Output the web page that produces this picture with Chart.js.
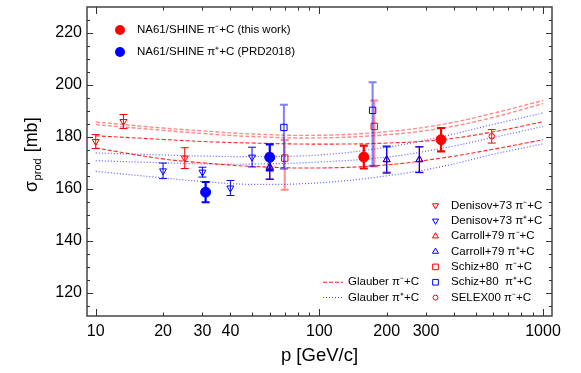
<!DOCTYPE html>
<html><head><meta charset="utf-8">
<script src="https://cdn.jsdelivr.net/npm/chart.js@4"></script>
<style>html,body{margin:0;padding:0;background:#fff;}</style>
</head><body>
<canvas id="c" width="581" height="373"></canvas>
<script>
// ---------------- data ----------------
const xLabelled = [10, 20, 30, 40, 100, 200, 300, 1000];
const xTickVals = [10,20,30,40,50,60,70,80,90,100,200,300,400,500,600,700,800,900,1000];
const yLabelled = [120, 140, 160, 180, 200, 220];

// NA61/SHINE pi- + C (this work)
const na61mP = [158, 350];
const na61mS = [172.2, 178.9];
const na61mE = [4.4, 4.5];
// NA61/SHINE pi+ + C (PRD2018)
const na61pP = [31, 60];
const na61pS = [158.7, 172.1];
const na61pE = [3.9, 5.0];
// Denisov+73 pi- + C
const denMP = [10, 13.3, 25];
const denMS = [178.2, 185.9, 171.8];
const denME = [2.7, 2.7, 4.0];
// Denisov+73 pi+ + C
const denPP = [20, 30, 40, 50];
const denPS = [166.9, 166.4, 160.3, 172.2];
const denPE = [3.0, 1.9, 2.9, 3.8];
// Carroll+79 pi- + C
const carMP = [60, 200, 280];
const carMS = [168.6, 171.2, 171.2];
const carME = [5.0, 4.8, 5.0];
// Carroll+79 pi+ + C
const carPP = [60, 200, 280];
const carPS = [168.2, 171.2, 171.2];
const carPE = [4.5, 5.2, 4.9];
// Schiz+80 pi- + C (asymmetric)
const schMP = [70, 176];
const schMS = [171.8, 184.0];
const schMLo = [159.6, 168.6];
const schMHi = [178.8, 194.0];
// Schiz+80 pi+ + C (asymmetric)
const schPP = [69.4, 173];
const schPS = [183.6, 190.2];
const schPLo = [167.7, 168.9];
const schPHi = [192.4, 201.0];
// SELEX00 pi- + C
const selP = [590];
const selS = [180.2];
const selE = [2.6];

// Glauber curves
const glP = [10, 20, 30, 50, 100, 200, 350, 580, 1000];
const glM1 = [185.7, 183.4, 182.3, 181.1, 180.6, 182.0, 184.7, 188.8, 194.0];
const glM2 = [184.7, 182.5, 181.3, 180.1, 179.6, 180.8, 183.3, 187.2, 192.8];
const glM3 = [180.4, 179.0, 178.2, 177.6, 177.2, 177.6, 178.9, 181.7, 185.8];
const glM4 = [175.7, 171.5, 170.0, 168.6, 168.0, 169.2, 171.8, 175.0, 178.9];
const glP1 = [173.8, 173.0, 172.6, 172.4, 173.0, 176.0, 180.0, 184.5, 189.2];
const glP2 = [170.8, 170.0, 169.6, 169.5, 170.3, 172.2, 175.5, 179.5, 184.0];
const glP3 = [166.7, 164.2, 162.8, 161.7, 162.3, 165.0, 168.5, 173.0, 177.3];

// ---------------- helpers ----------------
const RED = '#ff0000', BLUE = '#0000ff';
const FONT = "'Liberation Sans', Arial, Helvetica, sans-serif";
function pts(xs, ys) { return xs.map((x, i) => ({x: x, y: ys[i]})); }
function sym(ys, es, sign) { return ys.map((y, i) => y + sign * es[i]); }

function pointSet(label, xs, ys, lo, hi, o) {
  return Object.assign({
    label: label, data: pts(xs, ys), errLo: lo, errHi: hi,
    showLine: false, borderWidth: 1, backgroundColor: 'rgba(0,0,0,0)'
  }, o);
}
function curve(xs, ys, color, dash, width) {
  return { label: '', data: pts(xs, ys), showLine: true, pointRadius: 0, borderColor: color,
    borderWidth: width, borderDash: dash, tension: 0.4, fill: false, isCurve: true };
}

const datasets = [
  pointSet('na61m', na61mP, na61mS, sym(na61mS, na61mE, -1), sym(na61mS, na61mE, 1),
    {pointStyle: 'circle', pointRadius: 5, backgroundColor: RED, borderColor: RED, errColor: RED, errWidth: 2.2, cap: 4}),
  pointSet('na61p', na61pP, na61pS, sym(na61pS, na61pE, -1), sym(na61pS, na61pE, 1),
    {pointStyle: 'circle', pointRadius: 5, backgroundColor: BLUE, borderColor: BLUE, errColor: BLUE, errWidth: 2.2, cap: 4}),
  pointSet('selex', selP, selS, sym(selS, selE, -1), sym(selS, selE, 1),
    {pointStyle: 'circle', pointRadius: 2.8, borderColor: RED, errColor: RED, errWidth: 1, cap: 4}),
  pointSet('denM', denMP, denMS, sym(denMS, denME, -1), sym(denMS, denME, 1),
    {pointStyle: 'triangle', rotation: 180, pointRadius: 4, borderColor: RED, errColor: RED, errWidth: 1, cap: 4}),
  pointSet('denP', denPP, denPS, sym(denPS, denPE, -1), sym(denPS, denPE, 1),
    {pointStyle: 'triangle', rotation: 180, pointRadius: 4, borderColor: BLUE, errColor: BLUE, errWidth: 1, cap: 4}),
  pointSet('carP', carPP, carPS, sym(carPS, carPE, -1), sym(carPS, carPE, 1),
    {pointStyle: 'triangle', rotation: 0, pointRadius: 4, borderColor: BLUE, errColor: BLUE, errWidth: 1.2, cap: 4}),
  pointSet('carM', carMP, carMS, sym(carMS, carME, -1), sym(carMS, carME, 1),
    {pointStyle: 'triangle', rotation: 0, pointRadius: 4, borderColor: RED, errColor: 'rgba(255,0,0,0.8)', errWidth: 1.2, cap: 4}),
  pointSet('schP', schPP, schPS, schPLo, schPHi,
    {pointStyle: 'rect', pointRadius: 4.5, borderColor: BLUE, errColor: 'rgba(0,0,255,0.5)', errWidth: 2, cap: 4}),
  pointSet('schM', schMP, schMS, schMLo, schMHi,
    {pointStyle: 'rect', pointRadius: 4.5, borderColor: RED, errColor: 'rgba(255,0,0,0.45)', errWidth: 2, cap: 4}),
  curve(glP, glM1, 'rgba(255,0,0,0.45)', [4, 2], 1.4),
  curve(glP, glM2, 'rgba(255,0,0,0.45)', [4, 2], 1.4),
  curve(glP, glM3, 'rgba(255,0,0,0.85)', [4, 2], 1.1),
  curve(glP, glM4, 'rgba(255,0,0,0.85)', [4, 2], 1.1),
  curve(glP, glP1, 'rgba(40,40,255,0.75)', [1, 2], 1.2),
  curve(glP, glP2, 'rgba(40,40,255,0.75)', [1, 2], 1.2),
  curve(glP, glP3, 'rgba(40,40,255,0.75)', [1, 2], 1.2)
];

// ---------------- plugin ----------------
function marker(ctx, style, x, y, r, color, filled, rot) {
  ctx.save();
  ctx.strokeStyle = color; ctx.fillStyle = color; ctx.lineWidth = 1;
  ctx.beginPath();
  if (style === 'circle') { ctx.arc(x, y, r, 0, Math.PI * 2); }
  else if (style === 'rect') { const s = r * Math.SQRT1_2; ctx.rect(x - s, y - s, 2 * s, 2 * s); }
  else if (style === 'triangle') {
    let a = rot * Math.PI / 180;
    for (let k = 0; k < 3; k++) {
      const px = x + Math.sin(a) * r, py = y - Math.cos(a) * r;
      if (k === 0) ctx.moveTo(px, py); else ctx.lineTo(px, py);
      a += 2 * Math.PI / 3;
    }
    ctx.closePath();
  }
  if (filled) ctx.fill(); else ctx.stroke();
  ctx.restore();
}

const rootStyle = {
  id: 'rootStyle',
  beforeDatasetDraw(chart, args) {
    const ds = chart.data.datasets[args.index];
    if (!ds.errLo) return;
    const ctx = chart.ctx, xs = chart.scales.x, ys = chart.scales.y;
    ctx.save();
    ctx.strokeStyle = ds.errColor; ctx.lineWidth = ds.errWidth;
    ds.data.forEach((d, i) => {
      const x = xs.getPixelForValue(d.x);
      const y1 = ys.getPixelForValue(ds.errHi[i]);
      const y2 = ys.getPixelForValue(ds.errLo[i]);
      ctx.beginPath();
      ctx.moveTo(x, y1); ctx.lineTo(x, y2);
      ctx.moveTo(x - ds.cap, y1); ctx.lineTo(x + ds.cap, y1);
      ctx.moveTo(x - ds.cap, y2); ctx.lineTo(x + ds.cap, y2);
      ctx.stroke();
    });
    ctx.restore();
  },
  afterDraw(chart) {
    const ctx = chart.ctx, a = chart.chartArea, xs = chart.scales.x, ys = chart.scales.y;
    ctx.save();
    // frame
    ctx.strokeStyle = '#444'; ctx.lineWidth = 1.5;
    ctx.strokeRect(a.left, a.top, a.right - a.left, a.bottom - a.top);
    // ticks
    ctx.lineWidth = 1; ctx.strokeStyle = '#333';
    ctx.beginPath();
    xs.ticks.forEach(t => {
      const x = Math.round(xs.getPixelForValue(t.value)) + 0.5;
      const dec = [10, 100, 1000].includes(t.value);
      const L = dec ? 7 : 3.5;
      ctx.moveTo(x, a.bottom); ctx.lineTo(x, a.bottom - L);
      ctx.moveTo(x, a.top); ctx.lineTo(x, a.top + L);
    });
    ys.ticks.forEach(t => {
      const y = Math.round(ys.getPixelForValue(t.value)) + 0.5;
      const L = (t.value % 20 === 0) ? 6 : 3;
      ctx.moveTo(a.left, y); ctx.lineTo(a.left + L, y);
      ctx.moveTo(a.right, y); ctx.lineTo(a.right - L, y);
    });
    ctx.stroke();

    // y title with subscript
    ctx.save();
    ctx.translate(37, 192);
    ctx.rotate(-Math.PI / 2);
    ctx.fillStyle = '#000'; ctx.textBaseline = 'alphabetic'; ctx.textAlign = 'left';
    ctx.font = '18px ' + FONT;
    ctx.fillText('σ', 0, 0);
    let w = ctx.measureText('σ').width;
    ctx.font = '11px ' + FONT;
    ctx.fillText('prod', w + 0.5, 4);
    w += ctx.measureText('prod').width + 1.5;
    ctx.font = '18px ' + FONT;
    ctx.fillText(' [mb]', w, 0);
    ctx.restore();

    // top legend
    ctx.font = '11.5px ' + FONT; ctx.fillStyle = '#000'; ctx.textBaseline = 'middle'; ctx.textAlign = 'left';
    marker(ctx, 'circle', 120, 30, 5, RED, true, 0);
    ctx.fillStyle = '#000'; ctx.fillText('NA61/SHINE π⁻+C (this work)', 137, 30);
    marker(ctx, 'circle', 120, 52, 5, BLUE, true, 0);
    ctx.fillStyle = '#000'; ctx.fillText('NA61/SHINE π⁺+C (PRD2018)', 137, 52);

    // bottom-right legend
    const rows = [
      ['triangle', 180, RED, 'Denisov+73 π⁻+C', 3.5],
      ['triangle', 180, BLUE, 'Denisov+73 π⁺+C', 3.5],
      ['triangle', 0, RED, 'Carroll+79 π⁻+C', 3.5],
      ['triangle', 0, BLUE, 'Carroll+79 π⁺+C', 3.5],
      ['rect', 0, RED, 'Schiz+80  π⁻+C', 4],
      ['rect', 0, BLUE, 'Schiz+80  π⁺+C', 4],
      ['circle', 0, RED, 'SELEX00 π⁻+C', 2.5]
    ];
    rows.forEach((r, i) => {
      const y = 205.5 + i * 15.35;
      marker(ctx, r[0], 435.5, y, r[4], r[2], false, r[1]);
      ctx.fillStyle = '#000'; ctx.fillText(r[3], 451, y);
    });
    // Glauber legend
    ctx.lineWidth = 1.1;
    ctx.setLineDash([4, 2]); ctx.strokeStyle = 'rgba(255,0,0,0.9)';
    ctx.beginPath(); ctx.moveTo(323, 282.2); ctx.lineTo(343, 282.2); ctx.stroke();
    ctx.setLineDash([1, 2]); ctx.strokeStyle = 'rgba(40,40,255,0.9)';
    ctx.beginPath(); ctx.moveTo(323, 297.5); ctx.lineTo(343, 297.5); ctx.stroke();
    ctx.setLineDash([]);
    ctx.fillStyle = '#000';
    ctx.fillText('Glauber π⁻+C', 348, 282);
    ctx.fillText('Glauber π⁺+C', 348, 297.4);
    ctx.restore();
  }
};

new Chart(document.getElementById('c'), {
  type: 'scatter',
  data: { datasets: datasets },
  options: {
    responsive: false, animation: false, devicePixelRatio: 1, events: [],
    layout: { padding: { top: 7, right: 29, left: 0, bottom: 0 } },
    plugins: { legend: { display: false }, tooltip: { enabled: false } },
    scales: {
      x: {
        type: 'logarithmic', min: 9.14, max: 1097,
        grid: { display: false, drawTicks: false }, border: { display: false },
        afterBuildTicks: s => { s.ticks = xTickVals.map(v => ({ value: v })); },
        afterFit: s => { s.height = 57; s.paddingLeft = 0; s.paddingRight = 0; },
        ticks: {
          autoSkip: false, maxRotation: 0, minRotation: 0, padding: 6, color: '#000',
          font: { family: FONT, size: 16 },
          callback: v => xLabelled.includes(v) ? String(v) : ''
        },
        title: { display: true, text: 'p [GeV/c]', color: '#000', font: { family: FONT, size: 18.5 }, padding: { top: 0, bottom: 6 } }
      },
      y: {
        type: 'linear', min: 111, max: 230,
        grid: { display: false, drawTicks: false }, border: { display: false },
        afterBuildTicks: s => { const t = []; for (let v = 115; v <= 225; v += 5) t.push({ value: v }); s.ticks = t; },
        afterFit: s => { s.width = 87; s.paddingTop = 0; s.paddingBottom = 0; },
        ticks: {
          autoSkip: false, padding: 5, color: '#000',
          font: { family: FONT, size: 16 },
          callback: v => yLabelled.includes(v) ? String(v) : ''
        }
      }
    }
  },
  plugins: [rootStyle]
});
</script>
</body></html>
